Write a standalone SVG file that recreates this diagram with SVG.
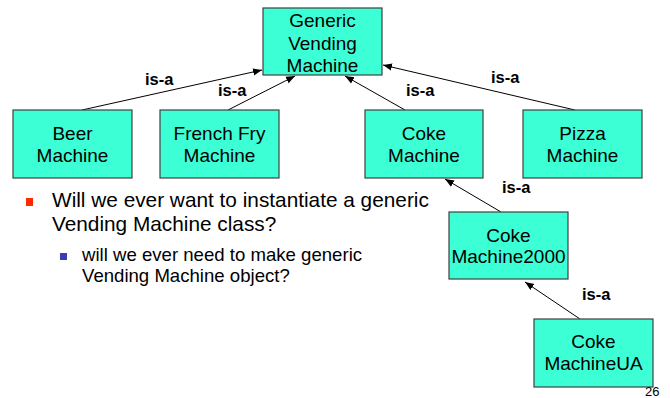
<svg xmlns="http://www.w3.org/2000/svg" width="670" height="398" viewBox="0 0 670 398">
<style>
.box{fill:#3cffd6;stroke:#404040;stroke-width:1.2}
.nt{font-family:"Liberation Sans",Arial,sans-serif;font-size:19px;fill:#000;text-anchor:middle}
.lbl{font-family:"Liberation Sans",Arial,sans-serif;font-size:16.5px;font-weight:bold;fill:#000}
.conn{stroke:#000;stroke-width:1;fill:none;marker-end:url(#ah)}
.b1{font-family:"Liberation Sans",Arial,sans-serif;font-size:20.8px;fill:#000}
.b2{font-family:"Liberation Sans",Arial,sans-serif;font-size:18.6px;fill:#000}
</style>
<defs>
<marker id="ah" viewBox="0 0 10 10" refX="10" refY="5" markerWidth="9" markerHeight="9" markerUnits="userSpaceOnUse" orient="auto">
<path d="M0,1 L10,5 L0,9 Z" fill="#000"/>
</marker>
</defs>
<rect width="670" height="398" fill="#fff"/>
<g id="connectors">
<line class="conn" x1="82" y1="110" x2="262" y2="70"/>
<line class="conn" x1="228" y1="110" x2="295" y2="76"/>
<line class="conn" x1="405" y1="110" x2="345" y2="76"/>
<line class="conn" x1="575" y1="110" x2="383" y2="65"/>
<line class="conn" x1="501" y1="212" x2="445" y2="179"/>
<line class="conn" x1="580" y1="319" x2="525" y2="282"/>
<text class="lbl" x="145" y="85">is-a</text>
<text class="lbl" x="218" y="96">is-a</text>
<text class="lbl" x="406" y="96">is-a</text>
<text class="lbl" x="491" y="83">is-a</text>
<text class="lbl" x="502" y="193">is-a</text>
<text class="lbl" x="582" y="300">is-a</text>
</g>
<g id="generic">
<rect class="box" x="263" y="8" width="119" height="67"/>
<text class="nt" x="322.5" y="27">Generic</text>
<text class="nt" x="322.5" y="50">Vending</text>
<text class="nt" x="322.5" y="72">Machine</text>
</g>
<g id="beer">
<rect class="box" x="13" y="110" width="119" height="68"/>
<text class="nt" x="72.5" y="140">Beer</text>
<text class="nt" x="72.5" y="162">Machine</text>
</g>
<g id="frenchfry">
<rect class="box" x="160" y="110" width="119" height="68"/>
<text class="nt" x="219.5" y="140">French Fry</text>
<text class="nt" x="219.5" y="162">Machine</text>
</g>
<g id="coke">
<rect class="box" x="365" y="110" width="118" height="68"/>
<text class="nt" x="424" y="140">Coke</text>
<text class="nt" x="424" y="162">Machine</text>
</g>
<g id="pizza">
<rect class="box" x="523" y="110" width="119" height="68"/>
<text class="nt" x="582.5" y="140">Pizza</text>
<text class="nt" x="582.5" y="162">Machine</text>
</g>
<g id="coke2000">
<rect class="box" x="449" y="212" width="119" height="67"/>
<text class="nt" x="508.5" y="242">Coke</text>
<text class="nt" x="508.5" y="263">Machine2000</text>
</g>
<g id="cokeua">
<rect class="box" x="534" y="319" width="119" height="68"/>
<text class="nt" x="593.5" y="348">Coke</text>
<text class="nt" x="593.5" y="370">MachineUA</text>
</g>
<g id="bullets">
<rect x="26" y="198" width="7" height="8" fill="#ff2a00"/>
<text class="b1" x="52" y="207">Will we ever want to instantiate a generic</text>
<text class="b1" x="52" y="231">Vending Machine class?</text>
<rect x="60" y="253" width="7" height="7" fill="#3c3cb4"/>
<text class="b2" x="82" y="261">will we ever need to make generic</text>
<text class="b2" x="82" y="282">Vending Machine object?</text>
</g>
<text x="645" y="396" font-family="'Liberation Sans',Arial,sans-serif" font-size="13" fill="#000">26</text>
</svg>
